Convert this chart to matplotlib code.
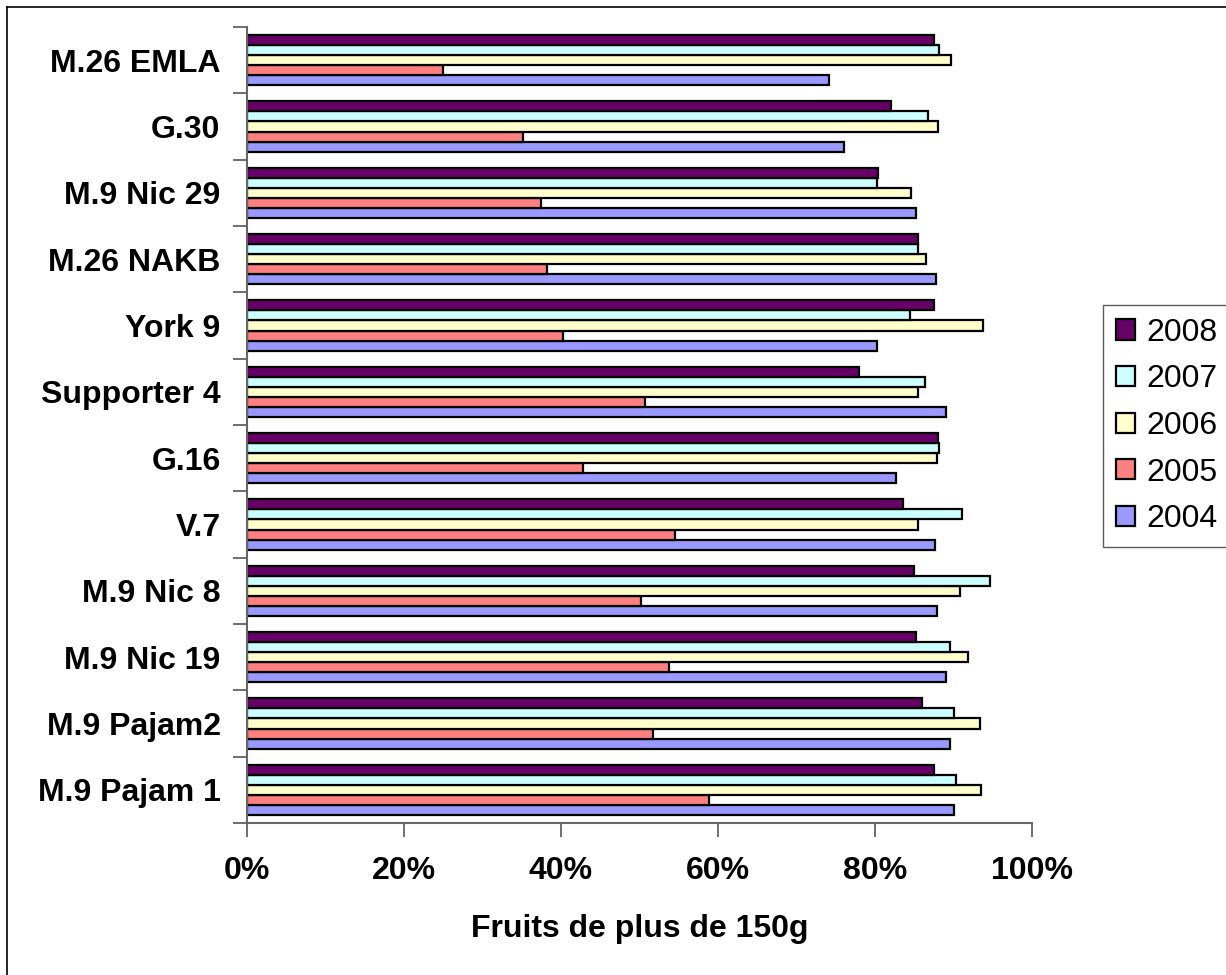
import matplotlib
matplotlib.use('Agg')
import matplotlib.pyplot as plt
import numpy as np
from matplotlib.lines import Line2D

plt.rcParams['font.family'] = ['Liberation Sans', 'DejaVu Sans']

# categories from bottom to top
categories = ['M.9 Pajam 1', 'M.9 Pajam2', 'M.9 Nic 19', 'M.9 Nic 8', 'V.7', 'G.16',
              'Supporter 4', 'York 9', 'M.26 NAKB', 'M.9 Nic 29', 'G.30', 'M.26 EMLA']

years = ['2004', '2005', '2006', '2007', '2008']
colors = ['#9999FF', '#FF8080', '#FFFFCC', '#CCFFFF', '#660066']

v2004 = [90.0, 89.5, 89.1, 87.9, 87.7, 82.7, 89.1, 80.3, 87.8, 85.2, 76.0, 74.1]
v2005 = [58.8, 51.7, 53.8, 50.2, 54.5, 42.8, 50.7, 40.3, 38.2, 37.5, 35.2, 25.0]
v2006 = [93.5, 93.4, 91.8, 90.8, 85.5, 87.9, 85.5, 93.8, 86.5, 84.6, 88.0, 89.7]
v2007 = [90.3, 90.0, 89.5, 94.7, 91.1, 88.2, 86.4, 84.4, 85.5, 80.3, 86.7, 88.2]
v2008 = [87.5, 86.0, 85.2, 85.0, 83.6, 88.0, 78.0, 87.5, 85.5, 80.4, 82.1, 87.5]
series = [v2004, v2005, v2006, v2007, v2008]

fig = plt.figure(figsize=(12.26, 9.75), dpi=100)
ax = fig.add_axes([247/1226, 1-823/975, (1032-247)/1226, (823-27)/975])

y = np.arange(len(categories))
h = 0.757 / 5
bars = []
for i, (vals, c) in enumerate(zip(series, colors)):
    b = ax.barh(y + (i - 2) * h, np.array(vals) / 100, height=h, color=c,
                edgecolor='black', linewidth=1.6)
    bars.append(b)

ax.set_xlim(0, 1)
ax.set_ylim(-0.5, len(categories) - 0.5)

ticks = np.arange(0, 1.01, 0.2)
ax.set_xticks(ticks)
ax.set_xticklabels([f'{int(round(t*100))}%' for t in ticks],
                   fontsize=23, fontweight='bold')
ax.set_yticks(np.arange(-0.5, len(categories), 1))
ax.set_yticklabels([])
ax.set_yticks(y, minor=True)
ax.set_yticklabels(categories, minor=True, fontsize=23, fontweight='bold')
ax.tick_params(axis='y', which='minor', length=0, pad=19)
ax.tick_params(axis='y', which='major', length=10, width=1.2, color='#555555')
ax.tick_params(axis='x', length=10, width=1.2, color='#555555', pad=14)

for s in ['top', 'right']:
    ax.spines[s].set_visible(False)
for s in ['left', 'bottom']:
    ax.spines[s].set_color('#666666')
    ax.spines[s].set_linewidth(1.5)

ax.set_xlabel('Fruits de plus de 150g', fontsize=23, fontweight='bold', labelpad=20)

leg = fig.legend(handles=bars[::-1], labels=years[::-1], loc='upper left',
                 bbox_to_anchor=(1103/1226, 1-305/975), fontsize=23,
                 frameon=True, fancybox=False, edgecolor='#333333',
                 handlelength=0.6, handleheight=0.6, handletextpad=0.35,
                 labelspacing=0.52, borderpad=0.4, borderaxespad=0)
leg.get_frame().set_linewidth(1.0)

# chart area border (cut at right and bottom)
fig.add_artist(Line2D([7/1226, 7/1226], [0, 1-7/975], transform=fig.transFigure,
                      color='black', linewidth=1.2))
fig.add_artist(Line2D([7/1226, 1], [1-7/975, 1-7/975], transform=fig.transFigure,
                      color='black', linewidth=1.2))

fig.savefig('out.png', dpi=100)
